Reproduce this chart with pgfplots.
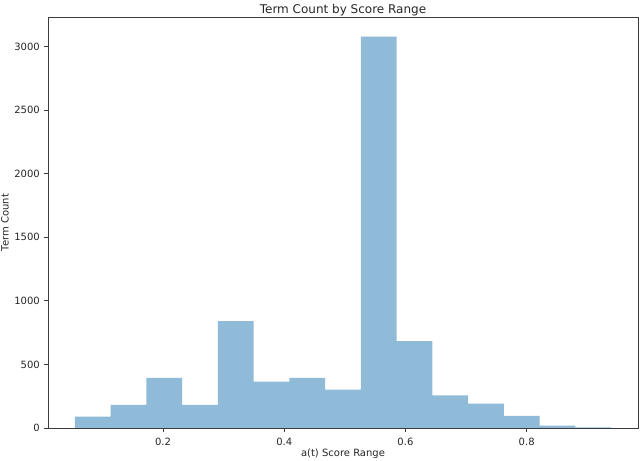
\documentclass[border=0pt]{standalone}
\usepackage{fontspec}
\setmainfont{DejaVu Sans}
\usepackage{pgfplots}
\pgfplotsset{compat=1.18}
\definecolor{barblue}{RGB}{143,187,217}
\definecolor{axgray}{RGB}{60,60,60}
\begin{document}
\fontsize{10bp}{12bp}\selectfont
\begin{tikzpicture}
\begin{axis}[
  scale only axis, width=590bp, height=411bp,
  xmin=0.0103, xmax=0.9837, ymin=0, ymax=3231,
  xtick={0.2,0.4,0.6,0.8}, xticklabels={0.2,0.4,0.6,0.8},
  ytick={0,500,1000,1500,2000,2500,3000},
  /pgf/number format/assume math mode=true,
  /pgf/number format/1000 sep={},
  scaled ticks=false,
  tick pos=left,
  tick align=outside, major tick length=4bp,
  tick style={axgray, line width=0.8bp},
  axis line style={axgray, line width=0.8bp},
  ticklabel style={font=\fontsize{10bp}{12bp}\selectfont, text=black!85},
  xticklabel style={inner sep=0pt, anchor=base, yshift=-13bp},
  yticklabel style={inner sep=0pt, anchor=east, xshift=-4bp},
  title={Term Count by Score Range},
  title style={font=\fontsize{12bp}{14bp}\selectfont, inner sep=0pt, at={(axis description cs:0.5,1)}, anchor=base, yshift=-2bp, text=black!85},
  xlabel={a(t) Score Range},
  xlabel style={font=\fontsize{10bp}{12bp}\selectfont, inner sep=0pt, at={(axis description cs:0.5,0)}, anchor=base, yshift=-29bp, text=black!85},
  ylabel={Term Count},
  ylabel style={font=\fontsize{10bp}{12bp}\selectfont, inner sep=0pt, at={(axis description cs:-0.0797,0.5)}, anchor=north, text=black!85},
]
\addplot[ybar interval, fill=barblue, draw=none] table[x=x, y=y] {
x y
0.0545 90
0.1135 181
0.1725 394
0.2315 181
0.2905 840
0.3495 365
0.4085 394
0.4675 302
0.5265 3077
0.5855 683
0.6445 257
0.7035 192
0.7625 95
0.8215 19
0.8805 5
0.9395 0
};
\coordinate (ll) at (rel axis cs:0,0);
\coordinate (ur) at (rel axis cs:1,1);
\end{axis}
\pgfresetboundingbox
\path[use as bounding box] ([xshift=-48bp,yshift=-33bp]ll) rectangle ([xshift=2bp,yshift=17bp]ur);
\end{tikzpicture}
\end{document}
